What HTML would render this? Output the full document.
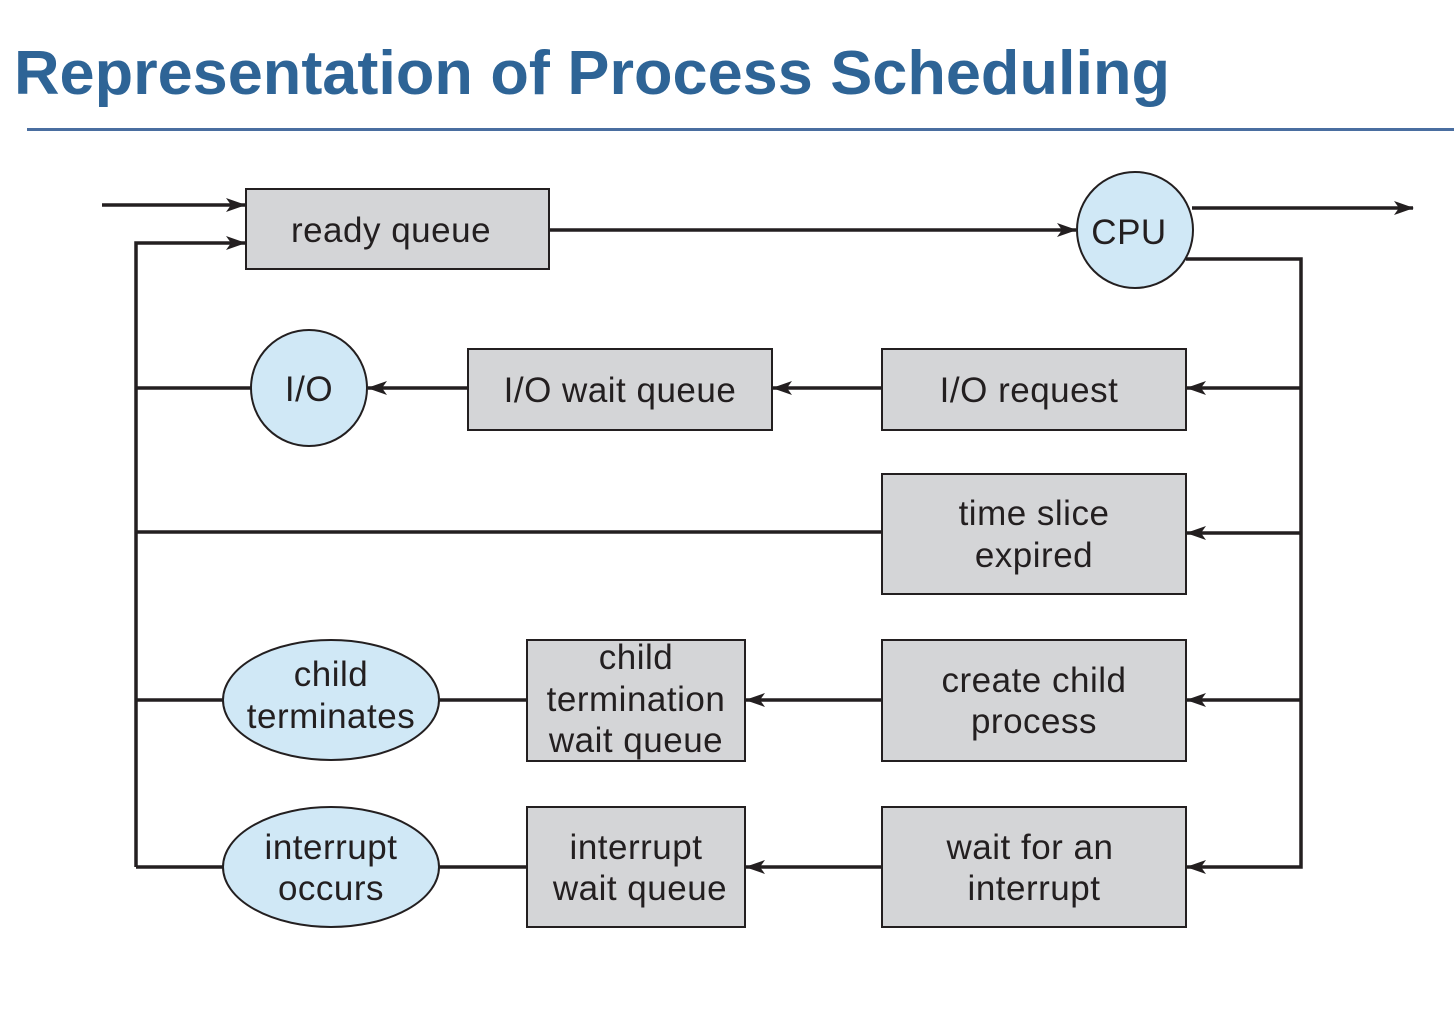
<!DOCTYPE html>
<html><head><meta charset="utf-8"><style>
body{margin:0;background:#fff;width:1454px;height:1011px;overflow:hidden}
</style></head><body>
<svg width="1454" height="1011" xmlns="http://www.w3.org/2000/svg" font-family="Liberation Sans, sans-serif">
<defs>
<marker id="b" markerWidth="20" markerHeight="14" refX="19" refY="7" orient="auto" markerUnits="userSpaceOnUse"><path d="M0,0 L20,7 L0,14 L5,7 z" fill="#231f20"/></marker></defs>
<text x="14" y="94" font-size="62" font-weight="bold" fill="#2e6496" textLength="1156" lengthAdjust="spacingAndGlyphs">Representation of Process Scheduling</text>
<rect x="27" y="128" width="1427" height="3" fill="#4a6ea0"/>
<g stroke="#231f20" stroke-width="3.5" fill="none">
<line x1="102" y1="205" x2="245" y2="205" marker-end="url(#b)"/>
<polyline points="136,867 136,243 245,243" marker-end="url(#b)"/>
<line x1="549" y1="230" x2="1076" y2="230" marker-end="url(#b)"/>
<line x1="1192" y1="208" x2="1413" y2="208" marker-end="url(#b)"/>
<polyline points="1186,259 1301,259 1301,867 1187,867" marker-end="url(#b)"/>
<line x1="1301" y1="388" x2="1187" y2="388" marker-end="url(#b)"/>
<line x1="1301" y1="533" x2="1187" y2="533" marker-end="url(#b)"/>
<line x1="1301" y1="700" x2="1187" y2="700" marker-end="url(#b)"/>
<line x1="882" y1="388" x2="773" y2="388" marker-end="url(#b)"/>
<line x1="468" y1="388" x2="368" y2="388" marker-end="url(#b)"/>
<line x1="882" y1="700" x2="746" y2="700" marker-end="url(#b)"/>
<line x1="882" y1="867" x2="746" y2="867" marker-end="url(#b)"/>
<line x1="136" y1="388" x2="251" y2="388"/>
<line x1="136" y1="532" x2="882" y2="532"/>
<line x1="136" y1="700" x2="223" y2="700"/>
<line x1="136" y1="867" x2="223" y2="867"/>
<line x1="439" y1="700" x2="527" y2="700"/>
<line x1="439" y1="867" x2="527" y2="867"/>
</g>
<g stroke="#231f20" stroke-width="2" fill="#d4d5d7">
<rect x="246" y="189" width="303" height="80"/>
<rect x="468" y="349" width="304" height="81"/>
<rect x="882" y="349" width="304" height="81"/>
<rect x="882" y="474" width="304" height="120"/>
<rect x="882" y="640" width="304" height="121"/>
<rect x="527" y="640" width="218" height="121"/>
<rect x="527" y="807" width="218" height="120"/>
<rect x="882" y="807" width="304" height="120"/>
</g>
<g stroke="#231f20" stroke-width="2" fill="#d0e8f6">
<circle cx="1135" cy="230" r="58"/>
<circle cx="309" cy="388" r="58"/>
<ellipse cx="331" cy="700" rx="108" ry="60"/>
<ellipse cx="331" cy="867" rx="108" ry="60"/>
</g>
<g font-size="35" fill="#231f20" text-anchor="middle" letter-spacing="0.5">
<text x="391" y="242">ready queue</text>
<text x="1129" y="244">CPU</text>
<text x="309" y="401">I/O</text>
<text x="620" y="402">I/O wait queue</text>
<text x="1029" y="402">I/O request</text>
<text x="1034" y="525">time slice</text>
<text x="1034" y="567">expired</text>
<text x="1034" y="692">create child</text>
<text x="1034" y="733">process</text>
<text x="636" y="669">child</text>
<text x="636" y="711">termination</text>
<text x="636" y="752">wait queue</text>
<text x="331" y="686">child</text>
<text x="331" y="728">terminates</text>
<text x="331" y="859">interrupt</text>
<text x="331" y="900">occurs</text>
<text x="636" y="859">interrupt</text>
<text x="640" y="900">wait queue</text>
<text x="1030" y="859">wait for an</text>
<text x="1034" y="900">interrupt</text>
</g>
</svg>
</body></html>
